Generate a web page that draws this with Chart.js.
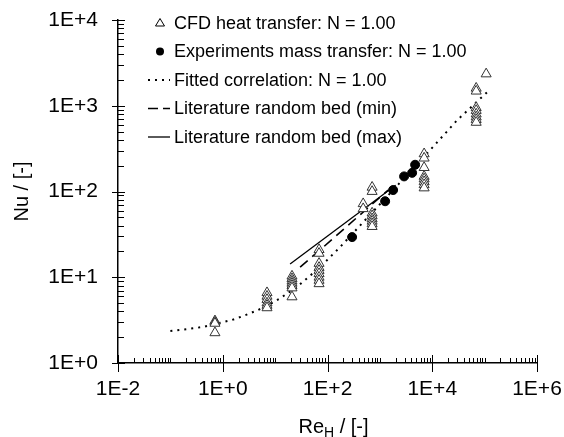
<!DOCTYPE html>
<html>
<head>
<meta charset="utf-8">
<script src="https://cdn.jsdelivr.net/npm/chart.js@4.4.1/dist/chart.umd.min.js"></script>
<style>
  html, body { margin: 0; padding: 0; background: #fff; }
  #wrap { width: 564px; height: 437px; }
</style>
</head>
<body>
<div id="wrap"><canvas id="myChart" width="564" height="437"></canvas></div>
<script>
// CFD heat transfer (triangles), columns of points at each Re
var cfdRe = [0.71, 0.71, 0.71, 0.71,
             7, 7, 7, 7, 7, 7,
             21, 21, 21, 21, 21, 21, 21,
             69, 69, 69, 69, 69, 69, 69, 69, 69,
             480, 480,
             711, 711, 711, 711, 711, 711, 711, 711,
             7000, 7000, 7000, 7000, 7000, 7000, 7000, 7000,
             69000, 69000, 69000, 69000, 69000, 69000, 69000, 69000,
             107000];
var cfdNu = [3.1, 3.0, 2.9, 2.25,
             6.6, 6.0, 5.5, 5.0, 4.7, 4.4,
             10.3, 9.6, 9.0, 8.5, 8.0, 7.5, 5.9,
             21, 19, 14.5, 13, 12, 11, 10, 9.2, 8.4,
             72, 63,
             112, 100, 56, 52, 48, 45, 42, 39,
             275, 245, 190, 150, 140, 130, 120, 110,
             1600, 1480, 950, 880, 800, 740, 690, 640,
             2350];

// experiments mass transfer (filled circles)
var expRe = [295, 1260, 1790, 2900, 4130, 4710];
var expNu = [29.4, 77, 104, 150, 165, 205];

// fitted correlation (dotted)
var fitRe = [0.1, 0.2, 0.42, 0.71, 1.5, 3, 5.9, 12, 26, 72, 174, 1000, 9100, 30000, 112000];
var fitNu = [2.36, 2.48, 2.63, 2.85, 3.17, 3.7, 4.4, 5.6, 7.7, 13.1, 22.5, 71, 304, 680, 1440];

// literature random bed
var minRe = [30, 72, 1440];
var minNu = [13.1, 20.8, 104];
var maxRe = [19.3, 2000];
var maxNu = [14.3, 118];

var xTickVals = [1e-2, 1e0, 1e2, 1e4, 1e6];
var yTickVals = [1e0, 1e1, 1e2, 1e3, 1e4];

var legendLabels = [
  'CFD heat transfer: N = 1.00',
  'Experiments mass transfer: N = 1.00',
  'Fitted correlation: N = 1.00',
  'Literature random bed (min)',
  'Literature random bed (max)'
];

var FONT = '"Liberation Sans", Arial, sans-serif';
Chart.defaults.font.family = FONT;
Chart.defaults.color = '#000';

function toPoints(xs, ys) {
  return xs.map(function(x, i) { return {x: x, y: ys[i]}; });
}

function expLabel(v) {
  var e = Math.round(Math.log10(v));
  return '1E' + (e < 0 ? '-' : '+') + Math.abs(e);
}

// tick marks: majors cross the axis, minors point inside
var axisTicks = {
  id: 'axisTicks',
  beforeDatasetsDraw: function(chart) {
    var ctx = chart.ctx, xs = chart.scales.x, ys = chart.scales.y, a = chart.chartArea;
    ctx.save();
    ctx.strokeStyle = '#000';
    ctx.lineWidth = 1;
    ctx.beginPath();
    for (var n = -2; n <= 6; n++) {
      for (var k = 1; k <= 9; k++) {
        var v = k * Math.pow(10, n);
        if (v > 1.0001e6) break;
        var px = Math.round(xs.getPixelForValue(v)) + 0.5;
        if (k == 1 && n % 2 == 0) {
          ctx.moveTo(px, a.bottom + 9); ctx.lineTo(px, a.bottom - 8);
        } else {
          ctx.moveTo(px, a.bottom); ctx.lineTo(px, a.bottom - 5);
        }
      }
    }
    for (n = 0; n <= 4; n++) {
      for (k = 1; k <= 9; k++) {
        v = k * Math.pow(10, n);
        if (v > 1.0001e4) break;
        var py = Math.round(ys.getPixelForValue(v)) + 0.5;
        if (k == 1) {
          ctx.moveTo(a.left - 6, py); ctx.lineTo(a.left + 7, py);
        } else {
          ctx.moveTo(a.left, py); ctx.lineTo(a.left + 6, py);
        }
      }
    }
    ctx.stroke();

    // x axis title with subscript
    var cx = (a.left + a.right) / 2 + 6, by = 433;
    ctx.fillStyle = '#000';
    ctx.textBaseline = 'alphabetic';
    ctx.font = '20px ' + FONT;
    var w1 = ctx.measureText('Re').width, w3 = ctx.measureText(' / [-]').width;
    ctx.font = '14px ' + FONT;
    var w2 = ctx.measureText('H').width;
    var sx = cx - (w1 + w2 + w3) / 2;
    ctx.font = '20px ' + FONT;
    ctx.fillText('Re', sx, by);
    ctx.font = '14px ' + FONT;
    ctx.fillText('H', sx + w1, by + 4);
    ctx.font = '20px ' + FONT;
    ctx.fillText(' / [-]', sx + w1 + w2, by);
    ctx.restore();
  }
};

var legendBox = {
  id: 'legendBox',
  afterDraw: function(chart) {
    var ctx = chart.ctx, a = chart.chartArea;
    var mx = a.left + 42, tx = a.left + 56, y0 = a.top + 3, dy = 28.5;
    ctx.save();
    ctx.font = '18px ' + FONT;
    ctx.textBaseline = 'middle';
    ctx.fillStyle = '#000';
    ctx.strokeStyle = '#000';
    legendLabels.forEach(function(t, i) {
      var y = y0 + i * dy;
      ctx.fillStyle = '#000';
      ctx.fillText(t, tx, y + 1);
      ctx.beginPath();
      if (i == 0) {
        ctx.lineWidth = 1;
        ctx.moveTo(mx, y - 4.5);
        ctx.lineTo(mx + 4.5, y + 3);
        ctx.lineTo(mx - 4.5, y + 3);
        ctx.closePath();
        ctx.fillStyle = '#fff';
        ctx.fill();
        ctx.stroke();
      } else if (i == 1) {
        ctx.arc(mx, y, 4, 0, Math.PI * 2);
        ctx.fill();
      } else {
        ctx.lineWidth = i == 2 ? 2 : (i == 3 ? 1.6 : 1.3);
        ctx.setLineDash(i == 2 ? [2, 5] : (i == 3 ? [10, 5] : []));
        ctx.moveTo(mx - 12, y);
        ctx.lineTo(mx + 10, y);
        ctx.stroke();
        ctx.setLineDash([]);
      }
    });
    ctx.restore();
  }
};

var ctx = document.getElementById('myChart');
var myChart = new Chart(ctx, {
  type: 'scatter',
  data: {
    datasets: [{
      label: legendLabels[1],
      data: toPoints(expRe, expNu),
      pointStyle: 'circle',
      pointRadius: 4.5,
      backgroundColor: '#000',
      borderColor: '#000',
      borderWidth: 1,
      order: 1
    }, {
      label: legendLabels[0],
      data: toPoints(cfdRe, cfdNu),
      pointStyle: 'triangle',
      pointRadius: 5.8,
      backgroundColor: '#fff',
      borderColor: '#333',
      borderWidth: 1,
      order: 2
    }, {
      label: legendLabels[2],
      data: toPoints(fitRe, fitNu),
      showLine: true,
      pointRadius: 0,
      borderColor: '#000',
      borderWidth: 2,
      borderDash: [2, 5],
      order: 3
    }, {
      label: legendLabels[3],
      data: toPoints(minRe, minNu),
      showLine: true,
      pointRadius: 0,
      borderColor: '#000',
      borderWidth: 1.6,
      borderDash: [10, 6],
      order: 3
    }, {
      label: legendLabels[4],
      data: toPoints(maxRe, maxNu),
      showLine: true,
      pointRadius: 0,
      borderColor: '#000',
      borderWidth: 1.3,
      order: 3
    }]
  },
  options: {
    responsive: false,
    animation: false,
    events: [],
    layout: { padding: { left: 0, top: 20, right: 27, bottom: 0 } },
    plugins: {
      legend: { display: false },
      tooltip: { enabled: false }
    },
    scales: {
      x: {
        type: 'logarithmic',
        min: 1e-2,
        max: 1e6,
        afterBuildTicks: function(scale) {
          scale.ticks = xTickVals.map(function(v) { return {value: v}; });
        },
        afterFit: function(scale) {
          scale.height = 74;
          scale.paddingLeft = 0;
          scale.paddingRight = 0;
        },
        ticks: {
          autoSkip: false,
          maxRotation: 0,
          padding: 14,
          font: { size: 21 },
          callback: function(v) { return expLabel(v); }
        },
        grid: { display: false, drawTicks: false },
        border: { display: true, color: '#000', width: 1.5 }
      },
      y: {
        type: 'logarithmic',
        min: 1,
        max: 1e4,
        afterBuildTicks: function(scale) {
          scale.ticks = yTickVals.map(function(v) { return {value: v}; });
        },
        afterFit: function(scale) {
          scale.width = 118;
          scale.paddingTop = 0;
          scale.paddingBottom = 0;
        },
        ticks: {
          autoSkip: false,
          padding: 20,
          font: { size: 21 },
          callback: function(v) { return expLabel(v); }
        },
        title: {
          display: true,
          text: 'Nu / [-]',
          font: { size: 20 },
          padding: { top: 10, bottom: 0 }
        },
        grid: { display: false, drawTicks: false },
        border: { display: true, color: '#000', width: 1.5 }
      }
    }
  },
  plugins: [axisTicks, legendBox]
});
</script>
</body>
</html>
